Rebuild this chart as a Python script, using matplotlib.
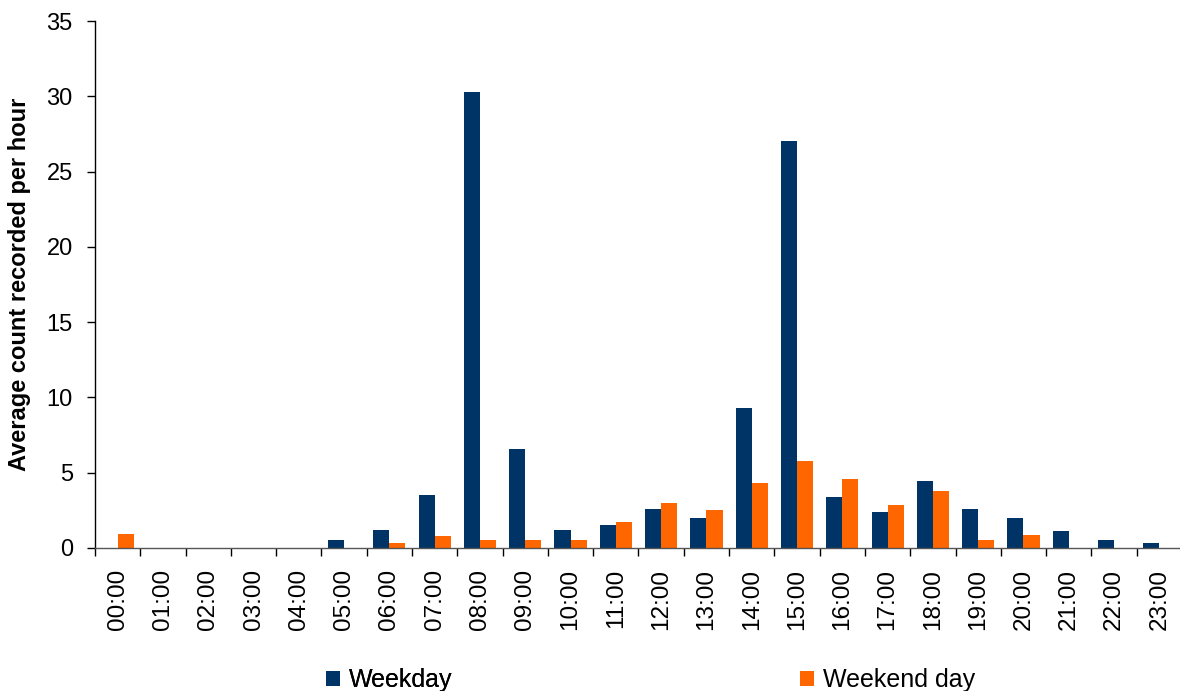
import matplotlib
matplotlib.use("Agg")
import matplotlib.pyplot as plt
import numpy as np
from matplotlib.ticker import FixedLocator, NullFormatter

plt.rcParams['font.family'] = ['Liberation Sans', 'DejaVu Sans']

hours = ["00:00", "01:00", "02:00", "03:00", "04:00", "05:00", "06:00", "07:00",
         "08:00", "09:00", "10:00", "11:00", "12:00", "13:00", "14:00", "15:00",
         "16:00", "17:00", "18:00", "19:00", "20:00", "21:00", "22:00", "23:00"]
weekday = [0, 0, 0, 0, 0, 0.5, 1.2, 3.5, 30.3, 6.6, 1.2, 1.5, 2.6, 2.0, 9.3, 27.0,
           3.4, 2.4, 4.45, 2.6, 2.0, 1.1, 0.55, 0.3]
weekend = [0.95, 0, 0, 0, 0, 0, 0.3, 0.8, 0.55, 0.55, 0.55, 1.75, 3.0, 2.55, 4.3, 5.8,
           4.6, 2.85, 3.8, 0.55, 0.85, 0, 0, 0]

navy = "#003366"
orange = "#FF6600"

W, H = 1180, 691
fig = plt.figure(figsize=(W / 100, H / 100), dpi=100)
left, right = 95, 1182
bottom, top = 548, 21
ax = fig.add_axes([left / W, (H - bottom) / H, (right - left) / W, (bottom - top) / H])

x = np.arange(len(hours))
bw = 0.355
b1 = ax.bar(x - bw / 2, weekday, width=bw, color=navy, edgecolor='none', label="Weekday")
b2 = ax.bar(x + bw / 2, weekend, width=bw, color=orange, edgecolor='none', label="Weekend day")

ax.set_xlim(-0.5, len(hours) - 0.5)
ax.set_ylim(0, 35)
ax.set_yticks(np.arange(0, 36, 5))
ax.tick_params(axis='y', labelsize=17, length=6, width=1, direction='out', pad=10)

ax.set_xticks(x)
ax.set_xticklabels(hours, rotation=90, fontsize=17.5)
ax.tick_params(axis='x', which='major', length=0, pad=15)
ax.xaxis.set_minor_locator(FixedLocator(np.arange(-0.5, len(hours), 1.0)))
ax.xaxis.set_minor_formatter(NullFormatter())
ax.tick_params(axis='x', which='minor', length=6, width=1, direction='out')

for s in ['top', 'right']:
    ax.spines[s].set_visible(False)
ax.spines['left'].set_linewidth(1)
ax.spines['bottom'].set_linewidth(1)
ax.spines['bottom'].set_color('#555555')

ax.set_ylabel("Average count recorded per hour", fontsize=17, fontweight='bold')
ax.yaxis.set_label_coords(-(95 - 20) / (right - left), 0.5)
ax.yaxis.label.set_va('center')

leg_y = (H - 680) / H
common = dict(frameon=False, fontsize=18, handlelength=0.56, handleheight=0.56,
              handletextpad=0.35, borderpad=0, borderaxespad=0)
leg1 = fig.legend([b1], ["Weekday"], loc='center left', bbox_to_anchor=(326 / W, leg_y), **common)
fig.add_artist(leg1)
leg2 = fig.legend([b2], ["Weekend day"], loc='center left', bbox_to_anchor=(800 / W, leg_y), **common)

fig.savefig("out.png", dpi=100)
